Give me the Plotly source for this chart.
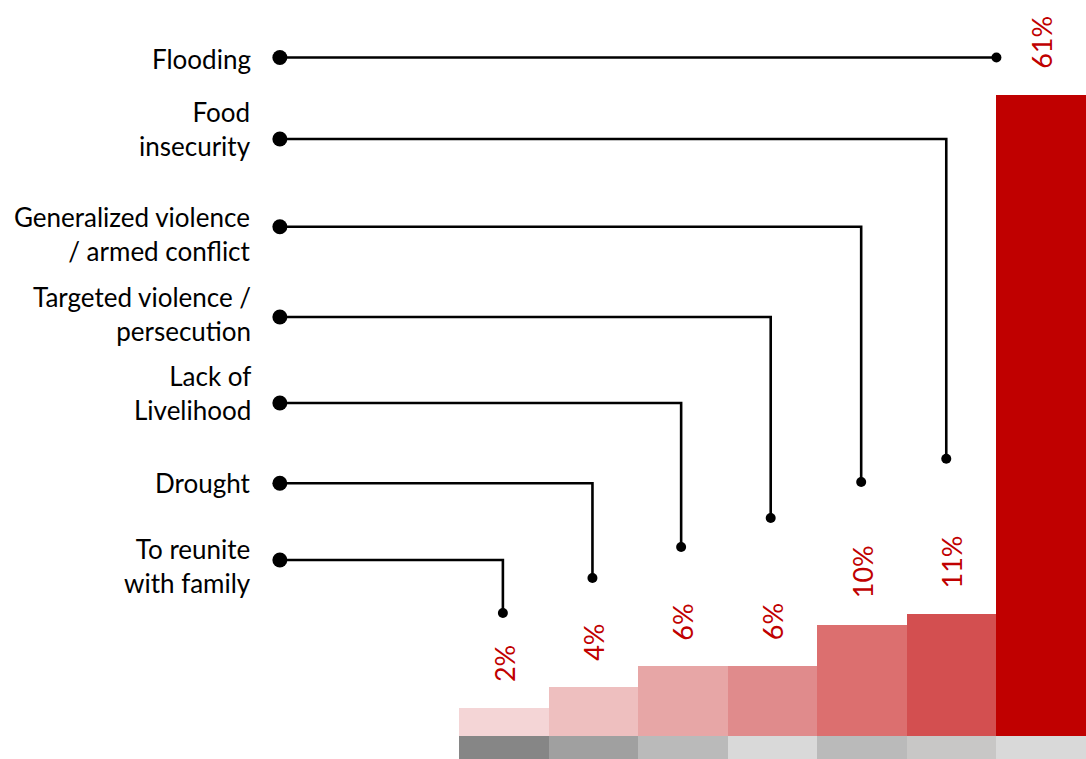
import plotly.graph_objects as go

# ---- data (bar order, left to right) ----
categories = ["To reunite<br>with family", "Drought", "Lack of<br>Livelihood",
              "Targeted violence /<br>persecution", "Generalized violence<br>/ armed conflict",
              "Food<br>insecurity", "Flooding"]
values = [2, 4, 6, 6, 10, 11, 61]
value_labels = ["2%", "4%", "6%", "6%", "10%", "11%", "61%"]

# ---- styling / layout helpers ----
bar_colors = ["#f4d5d6", "#eebfbf", "#e7a6a6", "#e08b8c", "#dc6f6f", "#d34f50", "#c00000"]
strip_colors = ["#868686", "#a0a0a0", "#bababa", "#d9d9d9", "#bababa", "#c8c7c6", "#d9d9d9"]
BASE = -0.72          # visual base of bars
STRIP_BASE = -3.2
row_y = [16.23, 23.62, 31.35, 39.63, 48.33, 56.78, 64.63]      # leader row heights
label_y = [15.7, 23.62, 32.3, 39.95, 47.6, 57.7, 64.48]        # category label heights
stem_end = [11.13, 14.50, 17.48, 20.28, 23.74, 25.99, None]    # leader stem ends
stem_off = [-0.01, -0.01, -0.02, -0.02, -0.01, -0.06, -0.5]
LEFT_X = -2.5

FONT = "Lato"
fig = go.Figure()

xs = list(range(len(values)))
# grey strip under bars
fig.add_trace(go.Bar(x=xs, y=[BASE - STRIP_BASE] * len(values), base=STRIP_BASE,
                     marker=dict(color=strip_colors, line=dict(width=0)), width=1,
                     hoverinfo="skip", showlegend=False))
# bars
fig.add_trace(go.Bar(x=xs, y=[v - BASE for v in values], base=BASE,
                     marker=dict(color=bar_colors, line=dict(width=0)), width=1,
                     hoverinfo="skip", showlegend=False))

# leader lines
for i, (cat, ry) in enumerate(zip(categories, row_y)):
    sx = xs[i] + stem_off[i]
    if stem_end[i] is None:
        lx, ly = [LEFT_X, sx], [ry, ry]
        ex, ey = sx, ry
    else:
        lx, ly = [LEFT_X, sx, sx], [ry, ry, stem_end[i]]
        ex, ey = sx, stem_end[i]
    fig.add_trace(go.Scatter(x=lx, y=ly, mode="lines", line=dict(color="black", width=2.6),
                             hoverinfo="skip", showlegend=False))
    fig.add_trace(go.Scatter(x=[LEFT_X], y=[ry], mode="markers",
                             marker=dict(color="black", size=15), hoverinfo="skip", showlegend=False))
    fig.add_trace(go.Scatter(x=[ex], y=[ey], mode="markers",
                             marker=dict(color="black", size=10), hoverinfo="skip", showlegend=False))
    fig.add_annotation(x=LEFT_X, y=label_y[i], xref="x", yref="y", text=cat, showarrow=False,
                       xanchor="right", yanchor="middle", align="right", xshift=-27,
                       font=dict(family=FONT, size=26, color="black"))

# value labels
for i, (v, t) in enumerate(zip(values, value_labels)):
    fig.add_annotation(x=xs[i], y=v, xref="x", yref="y", text=t, showarrow=False,
                       textangle=-90, xanchor="center", yanchor="bottom", yshift=24,
                       font=dict(family=FONT, size=27, color="#c00000"))

fig.update_layout(
    width=1086, height=759, autosize=False,
    margin=dict(l=0, r=0, t=0, b=0, pad=0),
    paper_bgcolor="white", plot_bgcolor="white",
    barmode="overlay", bargap=0,
    xaxis=dict(range=[-5.6244, 6.5], visible=False, fixedrange=True),
    yaxis=dict(range=[-2.935, 70.165], visible=False, fixedrange=True),
    showlegend=False,
)

fig.write_html("out.html", config={"displayModeBar": False},
               post_script="document.body.style.margin='0';")
